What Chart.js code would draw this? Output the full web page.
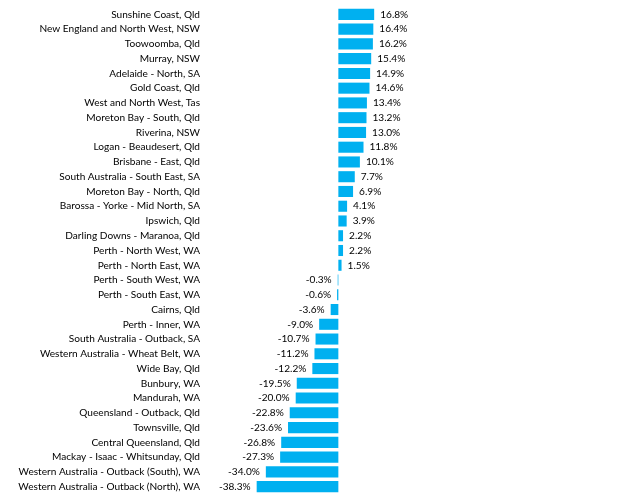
<!DOCTYPE html>
<html lang="en">
<head>
    <meta charset="UTF-8">
    <title>Regional change</title>
    <script src="https://cdn.jsdelivr.net/npm/chart.js"></script>
    <style>
        html, body { margin: 0; padding: 0; background: #fff; }
        #wrap { width: 641px; height: 501px; }
    </style>
</head>
<body>
<div id="wrap"><canvas id="chart"></canvas></div>
<script>
    const regions = [
        "Sunshine Coast, Qld", "New England and North West, NSW", "Toowoomba, Qld",
        "Murray, NSW", "Adelaide - North, SA", "Gold Coast, Qld",
        "West and North West, Tas", "Moreton Bay - South, Qld", "Riverina, NSW",
        "Logan - Beaudesert, Qld", "Brisbane - East, Qld", "South Australia - South East, SA",
        "Moreton Bay - North, Qld", "Barossa - Yorke - Mid North, SA", "Ipswich, Qld",
        "Darling Downs - Maranoa, Qld", "Perth - North West, WA", "Perth - North East, WA",
        "Perth - South West, WA", "Perth - South East, WA", "Cairns, Qld",
        "Perth - Inner, WA", "South Australia - Outback, SA", "Western Australia - Wheat Belt, WA",
        "Wide Bay, Qld", "Bunbury, WA", "Mandurah, WA",
        "Queensland - Outback, Qld", "Townsville, Qld", "Central Queensland, Qld",
        "Mackay - Isaac - Whitsunday, Qld", "Western Australia - Outback (South), WA",
        "Western Australia - Outback (North), WA"
    ];
    const change = [
        16.8, 16.4, 16.2, 15.4, 14.9, 14.6, 13.4, 13.2, 13.0, 11.8, 10.1,
        7.7, 6.9, 4.1, 3.9, 2.2, 2.2, 1.5, -0.3, -0.6, -3.6, -9.0,
        -10.7, -11.2, -12.2, -19.5, -20.0, -22.8, -23.6, -26.8, -27.3, -34.0, -38.3
    ];

    const FONT = { family: "Lato, 'Open Sans', sans-serif", size: 10.1 };

    // value labels beside each bar
    const valueLabels = {
        id: 'valueLabels',
        afterDatasetsDraw(chart) {
            const ctx = chart.ctx;
            const meta = chart.getDatasetMeta(0);
            ctx.save();
            ctx.font = FONT.size + 'px ' + FONT.family;
            ctx.fillStyle = '#000';
            ctx.textBaseline = 'middle';
            meta.data.forEach((bar, i) => {
                const v = change[i];
                const txt = v.toFixed(1) + '%';
                if (v >= 0) {
                    ctx.textAlign = 'left';
                    ctx.fillText(txt, bar.x + 6, bar.y);
                } else {
                    ctx.textAlign = 'right';
                    ctx.fillText(txt, bar.x - 6, bar.y);
                }
            });
            ctx.restore();
        }
    };

    new Chart(document.getElementById('chart'), {
        type: 'bar',
        data: {
            labels: regions,
            datasets: [{
                data: change,
                backgroundColor: '#00b0f0',
                borderWidth: 0,
                barPercentage: 0.75,
                categoryPercentage: 1.0
            }]
        },
        options: {
            indexAxis: 'y',
            animation: false,
            responsive: true,
            maintainAspectRatio: false,
            layout: { padding: { top: 7, bottom: 7, left: 0, right: 260 } },
            plugins: { legend: { display: false }, tooltip: { enabled: false } },
            scales: {
                x: {
                    min: -63,
                    max: 20,
                    display: false,
                    grid: { display: false }
                },
                y: {
                    grid: { display: false, drawTicks: false },
                    border: { display: false },
                    ticks: { color: '#000', font: FONT, padding: 4, autoSkip: false },
                    afterFit(scale) {
                        scale.width = 204;
                        scale.paddingTop = 0;
                        scale.paddingBottom = 0;
                    }
                }
            }
        },
        plugins: [valueLabels]
    });
</script>
</body>
</html>
